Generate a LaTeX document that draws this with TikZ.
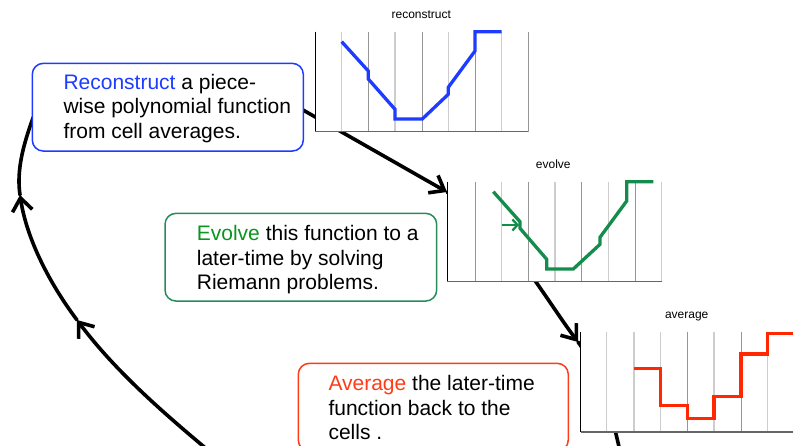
\documentclass[tikz,border=0pt]{standalone}
\usepackage{fontspec}
\setmainfont{Liberation Sans}
\usetikzlibrary{arrows.meta}
\definecolor{rblue}{RGB}{30,60,255}
\definecolor{egreen}{RGB}{10,150,30}
\definecolor{eboxgreen}{RGB}{40,140,90}
\definecolor{ecurve}{RGB}{20,140,75}
\definecolor{ared}{RGB}{255,60,25}
\definecolor{acurve}{RGB}{255,40,0}
\definecolor{gridlight}{RGB}{205,205,205}
\definecolor{griddark}{RGB}{150,150,150}
\tikzset{
  cyc/.style={line width=3.6pt, black, line cap=round},
  cycarrow/.style={cyc, -{Straight Barb[length=13pt,width=20pt]}},
  yaxis/.style={line width=1pt, black},
  xaxis/.style={line width=1.6pt, black!60},
  gl/.style={line width=1.3pt, gridlight},
  gd/.style={line width=1pt, griddark},
  ptitle/.style={font=\fontsize{12}{14}\selectfont, anchor=base, inner sep=0pt},
  textbox/.style={rounded corners=11pt, line width=1.5pt, fill=white, minimum width=271pt, minimum height=87.7pt, inner sep=0pt},
  boxtext/.style={font=\fontsize{21}{24.7}\selectfont, align=left, anchor=west, inner sep=0pt},
  fcurve/.style={line width=3.3pt, line join=miter}
}
\begin{document}
\begin{tikzpicture}[x=1pt,y=-1pt]
\useasboundingbox (0,0) rectangle (793,446);
\clip (0,0) rectangle (793,446);
% cycle curve joints
\coordinate (J0) at (215,456);
\coordinate (J1) at (77,320);
\coordinate (J2) at (20,195);
\coordinate (J3) at (33,118);
\coordinate (J5) at (303,110);
\coordinate (J6) at (447,192);
\coordinate (J7) at (578,342);
\coordinate (J8) at (622,460);
\draw[cycarrow] (J0) .. controls (165,414.4) and (116,372) .. (J1);
\draw[cycarrow] (J1) .. controls (50,284) and (26.75,239.5) .. (J2);
\draw[cyc] (J2) .. controls (16.1,169.3) and (24.2,142.4) .. (J3) .. controls (51.7,66.3) and (225.6,64.1) .. (J5);
\draw[cycarrow] (J5) -- (J6);
\draw[cycarrow] (J6) .. controls (507.2,227.7) and (542,294) .. (J7);
\draw[cyc] (J7) .. controls (603.2,375.6) and (612.8,419.3) .. (J8);

% reconstruct plot
\node[ptitle] (t1) at (421.3,19) {reconstruct};
\fill[white] (315,31.7) rectangle (528.3,131.7);
\foreach \gx/\st in {341.7/gl,368.3/gd,395/gl,422.3/gd,448.3/gl,475/gd,501.7/gl,528.3/gd}
  \draw[\st] (\gx,31.7) -- (\gx,131.7);
\draw[yaxis] (315,31.7) -- (315,131.7);
\draw[xaxis] (315,131.7) -- (528.3,131.7);
\draw[fcurve, rblue] (341.7,41.7) -- (368.3,71) -- (368.3,79) -- (395,109.3) -- (395,119) -- (422.3,119) -- (448.3,94.3) -- (448.3,87.3) -- (475,51) -- (475,31.7) -- (501.7,31.7);

% evolve plot
\node[ptitle] (t2) at (553.3,169) {evolve};
\fill[white] (447.3,181.7) rectangle (661.7,281.7);
\foreach \gx/\st in {475/gd,501.7/gl,528.3/gd,555/gl,581.7/gd,608.3/gl,635/gd,661.7/gl}
  \draw[\st] (\gx,181.7) -- (\gx,281.7);
\draw[yaxis] (447.3,181.7) -- (447.3,281.7);
\draw[xaxis] (447.3,281.7) -- (661.7,281.7);
\draw[fcurve, ecurve] (493.3,191.7) -- (520,221.7) -- (520,228.3) -- (546.7,259.3) -- (546.7,269) -- (573.3,269) -- (600,244.3) -- (600,237.3) -- (626.7,201) -- (626.7,181.7) -- (653.3,181.7);
\coordinate (ga) at (501.7,225);
\coordinate (gb) at (519,225);
\draw[ecurve, line width=2.3pt, -{Straight Barb[length=5pt,width=11pt]}] (ga) -- (gb);

% average plot
\node[ptitle] (t3) at (686.7,319) {average};
\fill[white] (580.7,331.7) rectangle (800,431.7);
\foreach \gx/\st in {606.7/gl,634/gl,660.7/gl,687.3/gd,714/gl,741/gd,767.7/gl}
  \draw[\st] (\gx,331.7) -- (\gx,431.7);
\draw[yaxis] (580.7,331.7) -- (580.7,431.7);
\draw[xaxis] (580.7,431.7) -- (800,431.7);
\draw[fcurve, acurve] (634,368.3) -- (660.7,368.3) -- (660.7,405.7) -- (687.3,405.7) -- (687.3,418.3) -- (714,418.3) -- (714,396.7) -- (741,396.7) -- (741,354) -- (767.7,354) -- (767.7,333.3) -- (800,333.3);

% text boxes
\node[textbox, draw=rblue] (b1) at (167.8,107.2) {};
\node[boxtext] (x1) at (63.3,108.5) {\textcolor{rblue}{Reconstruct} a piece-\\wise polynomial function\\from cell averages.};
\node[textbox, draw=eboxgreen, minimum width=271.7pt] (b2) at (300.85,257.2) {};
\node[boxtext] (x2) at (196.7,259.7) {\textcolor{egreen}{Evolve} this function to a\\later-time by solving\\Riemann problems.};
\node[textbox, draw=ared, minimum width=270pt] (b3) at (433.3,407.2) {};
\node[boxtext] (x3) at (328.3,407.5) {\textcolor{ared}{Average} the later-time\\function back to the\\cells .};
\end{tikzpicture}
\end{document}
